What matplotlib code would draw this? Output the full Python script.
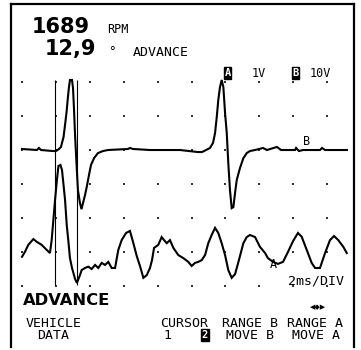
import matplotlib
matplotlib.use("Agg")
import matplotlib.pyplot as plt
import numpy as np
from matplotlib.lines import Line2D

# Scope settings
MS_PER_DIV = 2.0
A_VOLTS_PER_DIV = 1.0
B_VOLTS_PER_DIV = 10.0
A_ZERO_DIV = -3.0
B_ZERO_DIV = 0.0

RPM = "1689"
ADVANCE_DEG = "12,9"

# Channel B: ignition pickup, volts vs ms
B_MS = [0.00, 0.88, 1.00, 1.12, 1.83, 2.01, 2.18, 2.30, 2.36, 2.45, 2.54, 2.63,
        2.71, 2.77, 2.83, 2.95, 3.01, 3.07, 3.13, 3.22, 3.30, 3.42, 3.51, 3.60,
        3.72, 3.83, 3.95, 4.07, 4.25, 4.48, 4.78, 5.07, 6.25, 6.37, 6.55, 7.55,
        9.32, 10.38, 10.62, 10.86, 11.09, 11.27, 11.39, 11.49, 11.58, 11.68,
        11.78, 11.88, 11.98, 12.08, 12.17, 12.27, 12.37, 12.47, 12.57, 12.67,
        12.86, 13.06, 13.26, 13.45, 13.75, 14.22, 14.45, 15.04, 15.28, 16.11,
        16.17, 16.34, 16.58, 17.58, 17.70, 17.88, 19.17]
B_VOLTS = [0.3, 0.0, 0.6, 0.0, -0.3, -0.3, 0.3, 0.9, 2.1, 3.8, 7.4, 11.2,
           15.6, 18.5, 20.6, 20.6, 18.2, 11.8, 4.4, -4.4, -11.8, -15.6, -17.4, -15.6,
           -13.2, -10.6, -7.4, -4.4, -2.4, -0.9, -0.3, 0.0, 0.3, 0.6, 0.3, 0.0,
           0.0, -0.6, -0.6, 0.0, 0.6, 2.1, 5.0, 9.7, 14.7, 18.5,
           20.6, 18.5, 10.9, 5.0, -3.8, -11.8, -17.1, -16.8, -12.6, -8.8,
           -5.3, -2.4, -0.9, -0.3, 0.0, 0.6, 0.0, 0.9, 0.0, 0.0,
           0.6, -0.3, 0.0, 0.0, 0.6, 0.0, 0.0]

# Channel A: sensor signal, volts vs ms
A_MS = [0.00, 0.18, 0.37, 0.67, 0.87, 1.16, 1.46, 1.65, 1.75, 1.85, 1.95, 2.06,
        2.15, 2.27, 2.36, 2.42, 2.54, 2.64, 2.73, 2.83, 2.95, 3.13, 3.24, 3.42,
        3.52, 3.72, 3.91, 4.11, 4.31, 4.50, 4.70, 4.90, 5.09, 5.29, 5.49, 5.68,
        5.88, 6.14, 6.37, 6.57, 6.77, 6.96, 7.16, 7.36, 7.55, 7.67, 7.79, 8.04,
        8.24, 8.38, 8.54, 8.73, 8.93, 9.22, 9.52, 9.81, 10.01, 10.21, 10.40,
        10.60, 10.80, 10.99, 11.19, 11.39, 11.58, 11.78, 11.98, 12.17, 12.37,
        12.57, 12.77, 13.06, 13.26, 13.45, 13.75, 14.04, 14.34, 14.51, 14.81,
        15.10, 15.40, 15.69, 15.99, 16.28, 16.50, 16.80, 17.09, 17.29, 17.58,
        17.88, 18.17, 18.41, 18.66, 18.96, 19.16]
A_VOLTS = [-0.14, 0.01, 0.21, 0.38, 0.30, 0.21, 0.06, -0.03, 0.35, 0.94, 1.53, 2.12,
           2.53, 2.56, 2.41, 2.12, 1.53, 0.79, 0.35, -0.18, -0.47, -0.79, -0.91, -0.68,
           -0.53, -0.47, -0.43, -0.50, -0.38, -0.47, -0.32, -0.38, -0.29, -0.47, -0.47, 0.06,
           0.35, 0.56, 0.62, 0.26, -0.12, -0.41, -0.76, -0.68, -0.47, -0.24, 0.12, 0.21,
           0.44, 0.35, 0.26, 0.35, 0.12, -0.09, -0.18, -0.29, -0.41, -0.32, -0.29,
           -0.24, -0.09, 0.26, 0.50, 0.71, 0.56, 0.26, -0.09, -0.53, -0.76,
           -0.65, -0.29, 0.26, 0.44, 0.50, 0.44, 0.15, -0.03, -0.18, -0.29,
           -0.35, -0.29, 0.00, 0.32, 0.56, 0.45, 0.06, -0.32, -0.47, -0.47,
           -0.03, 0.35, 0.47, 0.35, 0.15, -0.03]

CURSOR_MS = [1.95, 3.24]

W, H = 361, 350
MONO = "DejaVu Sans Mono"
SMALL = 9.5


def fx(px):
    return px / W


def fy(py):
    return 1 - py / H


fig = plt.figure(figsize=(W / 100, H / 100), dpi=100)
fig.patch.set_facecolor("white")
ax = fig.add_axes([0, 0, 1, 1])
ax.set_axis_off()
ax.set_xlim(-1.298, 20.0)
ax.set_ylim(-5.882, 4.412)

# dotted graticule
gx, gy = np.meshgrid(np.arange(0, 20, MS_PER_DIV), [2, 1, 0, -1, -2, -3, -4])
ax.scatter(gx.ravel(), gy.ravel(), s=1.6, marker="s", c="#333333", linewidths=0)

# cursors
ax.vlines(CURSOR_MS, -3.97, 2.06, colors="black", linewidth=0.8)

# traces
b_div = np.array(B_VOLTS) / B_VOLTS_PER_DIV + B_ZERO_DIV
a_div = np.array(A_VOLTS) / A_VOLTS_PER_DIV + A_ZERO_DIV
ax.plot(B_MS, b_div, color="black", linewidth=1.5, solid_joinstyle="miter")
ax.plot(A_MS, a_div, color="black", linewidth=1.5, solid_joinstyle="miter")

# screen frame
for xs, ys in [((11, 11), (4, 347)), ((11, 354), (4, 4)), ((354, 354), (4, 347))]:
    fig.add_artist(Line2D([fx(v) for v in xs], [fy(v) for v in ys],
                          color="black", linewidth=1.6))


def label(x, y, s, size=SMALL, weight="normal", family=MONO, **kw):
    fig.text(fx(x), fy(y), s, fontsize=size, fontweight=weight, family=family,
             va="baseline", ha="left", color="black", **kw)


def boxed(x, y, s):
    fig.text(fx(x), fy(y), s, fontsize=7.5, family=MONO, fontweight="bold",
             color="white", ha="center", va="center",
             bbox=dict(boxstyle="square,pad=0.08", fc="black", ec="black"))


label(32, 33, RPM, size=15, weight="bold", family="DejaVu Sans")
label(107, 33, "RPM", size=8.5)
label(45, 55, ADVANCE_DEG, size=15, weight="bold", family="DejaVu Sans")
label(108, 55, "°", size=9)
label(133, 56, "ADVANCE", size=SMALL)

boxed(227.5, 73, "A")
label(252, 77, "1V", size=8.5)
boxed(295.5, 73, "B")
label(310, 77, "10V", size=8.5)

label(303, 145, "B", size=8.5)
label(270, 268, "A", size=8.5)
label(288, 285, "2ms/DIV")

label(23, 305, "ADVANCE", size=11.8, weight="bold", family="DejaVu Sans")
fig.text(fx(318), fy(307), "◀◆▶", fontsize=5, family="DejaVu Sans",
         ha="center", va="center")

label(26, 327, "VEHICLE")
label(37, 339, "DATA")
label(160, 327, "CURSOR")
label(163, 339, "1")
boxed(205, 335, "2")
label(222, 327, "RANGE B")
label(226, 339, "MOVE B")
label(287, 327, "RANGE A")
label(292, 339, "MOVE A")

fig.savefig("out.png", dpi=100, facecolor="white")
plt.close(fig)
